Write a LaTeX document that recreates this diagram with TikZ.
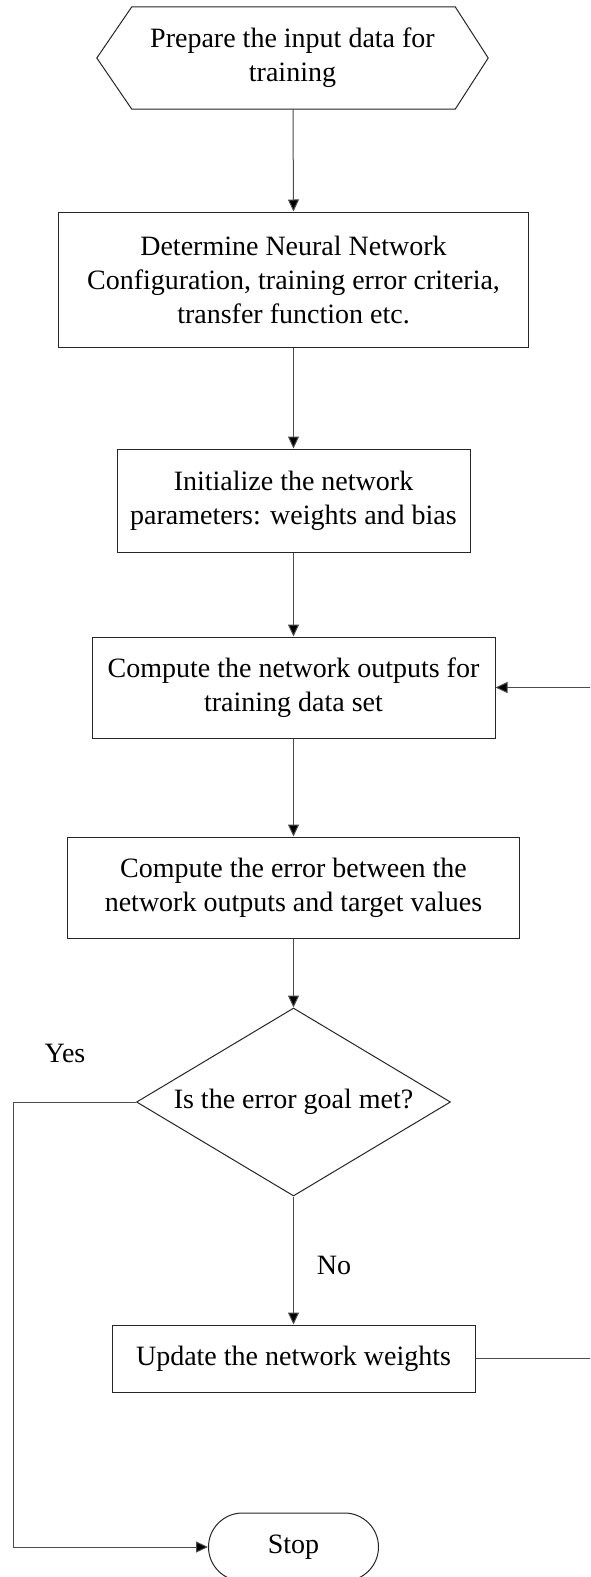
\documentclass[tikz,border=0pt]{standalone}
\usepackage{fontspec}
\setmainfont{Liberation Serif}
\usetikzlibrary{shapes.geometric,shapes.misc,arrows.meta,calc}
\begin{document}
\begin{tikzpicture}[x=1pt,y=-1pt,
  every node/.style={font=\fontsize{28}{34}\selectfont},
  procbox/.style={draw=black!85,line width=1pt,rectangle,align=center,inner sep=0pt},
  decbox/.style={draw=black!85,line width=1pt,diamond,align=center,inner sep=0pt},
  termbox/.style={draw=black!85,line width=1pt,rounded rectangle,align=center,inner sep=0pt},
  hexframe/.style={draw=black!85,line width=1pt,line join=miter},
  lbl/.style={inner sep=0pt},
  conn/.style={draw=black!70,line width=1pt},
  arr/.style={conn,-{Triangle[length=12pt,width=11pt,fill=black]}}
]
\useasboundingbox (0,0) rectangle (590,1577);
\clip (0,0) rectangle (590,1577);
\fill[white] (0,0) rectangle (590,1577);

% hexagon (preparation)
\node[lbl,align=center,minimum width=391pt,minimum height=102pt] (hex) at (292.5,58) {Prepare the input data for\\training};
\draw[hexframe] (hex.west) -- ($(hex.north west)+(35,0)$) -- ($(hex.north east)+(-33,0)$) -- (hex.east)
  -- ($(hex.south east)+(-33,0)$) -- ($(hex.south west)+(35,0)$) -- cycle;

\node[procbox,minimum width=470pt,minimum height=135pt] (cfg) at (293.5,279.5)
  {Determine Neural Network\\Configuration, training error criteria,\\transfer function etc.};
\node[procbox,minimum width=353pt,minimum height=103pt] (init) at (293.5,500.5)
  {Initialize the network\\parameters: weights and bias};
\node[procbox,minimum width=403pt,minimum height=101pt] (outp) at (293.5,687.5)
  {Compute the network outputs for\\training data set};
\node[procbox,minimum width=452pt,minimum height=101pt] (err) at (293.5,887.5)
  {Compute the error between the\\network outputs and target values};
\node[decbox,minimum width=314pt,minimum height=188pt,aspect=1.67] (goal) at (293.5,1102)
  {Is the error goal met?};
\node[procbox,minimum width=363pt,minimum height=67pt] (upd) at (293.5,1358.5)
  {Update the network weights};
\node[termbox,minimum width=170pt,minimum height=68pt] (stop) at (293.5,1547) {Stop};

\node[lbl] (yes) at (65,1053) {Yes};
\node[lbl] (no) at (334,1265) {No};

\coordinate (lft) at (13,0);
\coordinate (rgt) at (600,0);

\draw[arr] ($(hex.south)+(0.5,0)$) -- (cfg.north);
\draw[arr] (cfg.south) -- (init.north);
\draw[arr] (init.south) -- (outp.north);
\draw[arr] (outp.south) -- (err.north);
\draw[arr] (err.south) -- (goal.north);
\draw[arr] (goal.south) -- (upd.north);
\draw[arr] (goal.west) -- (goal.west -| lft) |- (stop.west);
\draw[arr] (upd.east) -- (upd.east -| rgt) |- (outp.east);
\end{tikzpicture}
\end{document}
